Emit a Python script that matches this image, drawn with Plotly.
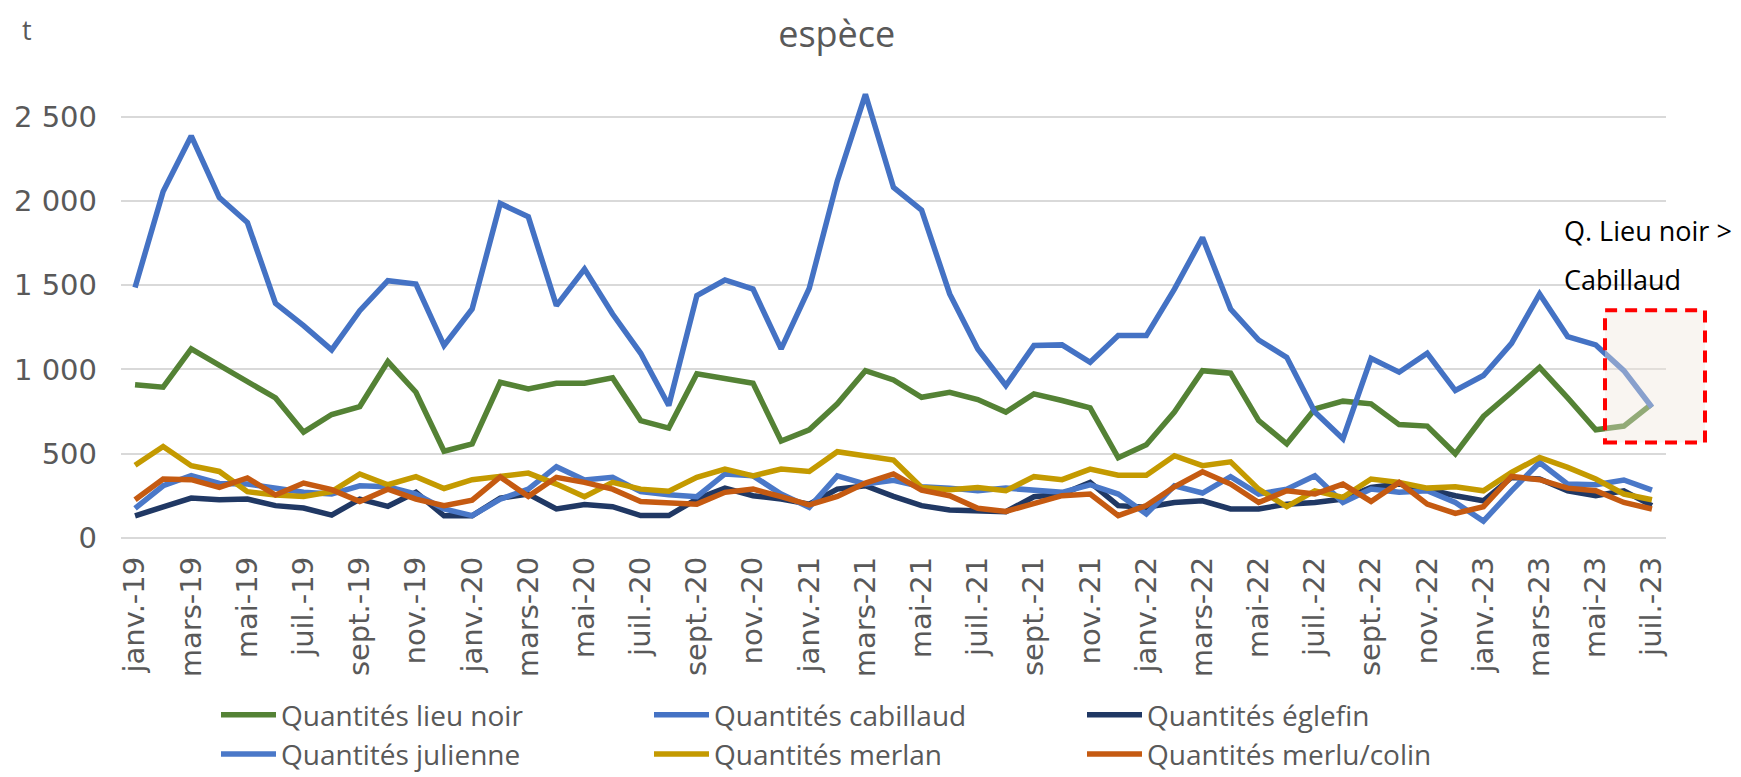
import plotly.graph_objects as go

months = []
mnames = ["janv.", "févr.", "mars", "avr.", "mai", "juin", "juil.", "août", "sept.", "oct.", "nov.", "déc."]
for yy in range(19, 24):
    for m in mnames:
        months.append(f"{m}-{yy}")
months = months[:55]

lieu_noir = [910, 895, 1122, 1023, 928, 831, 628, 733, 780, 1047,
             865, 515, 559, 924, 885, 918, 918, 950, 697, 652,
             974, 948, 918, 575, 642, 796, 993, 938, 835, 865,
             822, 747, 855, 816, 772, 476, 553, 747, 993, 978,
             697, 559, 766, 812, 796, 673, 664, 500, 721, 865,
             1013, 831, 642, 664, 796]
cabillaud = [1487, 2056, 2386, 2020, 1872, 1392, 1260, 1116, 1349, 1527,
             1507, 1142, 1359, 1985, 1906, 1379, 1596, 1329, 1096, 786,
             1438, 1531, 1477, 1122, 1481, 2119, 2633, 2080, 1945, 1448,
             1122, 905, 1142, 1146, 1043, 1201, 1201, 1477, 1783, 1359,
             1175, 1072, 747, 589, 1066, 984, 1096, 875, 964, 1155,
             1448, 1195, 1146, 993, 776]
eglefin = [132, 188, 237, 227, 231, 192, 178, 136, 231, 188,
           271, 132, 132, 237, 261, 172, 198, 186, 133, 133,
           231, 296, 251, 231, 201, 290, 310, 247, 192, 166,
           158, 156, 245, 261, 330, 192, 182, 211, 221, 172,
           172, 201, 211, 231, 300, 320, 290, 251, 221, 359,
           350, 280, 251, 280, 192]
julienne = [176, 310, 370, 324, 320, 294, 271, 261, 310, 304,
            261, 172, 133, 230, 290, 423, 344, 360, 275, 257,
            245, 380, 369, 261, 182, 369, 320, 343, 304, 296,
            281, 296, 281, 271, 316, 261, 143, 310, 267, 364,
            261, 290, 369, 211, 290, 271, 280, 211, 100, 280,
            448, 320, 316, 344, 284]
merlan = [432, 543, 429, 395, 275, 255, 247, 275, 380, 316,
          364, 294, 346, 364, 385, 320, 245, 330, 290, 277,
          360, 409, 369, 409, 395, 512, 488, 462, 300, 286,
          300, 281, 364, 346, 409, 373, 373, 488, 429, 452,
          290, 186, 280, 241, 350, 330, 296, 304, 280, 389,
          478, 419, 350, 261, 227]
merlu = [227, 350, 346, 301, 356, 255, 326, 287, 217, 290,
         231, 192, 225, 362, 247, 360, 330, 290, 217, 208,
         201, 271, 290, 245, 196, 247, 326, 380, 284, 251,
         176, 158, 208, 251, 261, 133, 192, 304, 393, 320,
         211, 280, 261, 320, 217, 330, 201, 146, 186, 365,
         346, 296, 280, 211, 172]

series = [
    ("Quantités lieu noir", lieu_noir, "#548235"),
    ("Quantités cabillaud", cabillaud, "#4472C4"),
    ("Quantités églefin", eglefin, "#203864"),
    ("Quantités julienne", julienne, "#4A78C8"),
    ("Quantités merlan", merlan, "#C49A00"),
    ("Quantités merlu/colin", merlu, "#C55A11"),
]

tick_months = months[::2]
yticks = [0, 500, 1000, 1500, 2000, 2500]

box_y = [567, 1351]

fig = go.Figure()
for name, vals, col in series:
    fig.add_trace(go.Scatter(x=months, y=vals, name=name, mode="lines",
                             line=dict(color=col, width=5.5)))

W, H = 1741, 777
L, R, T, B = 113, 83, 75, 247
PW = W - L - R
PH = H - T - B


def py(pix):
    return 1 - (pix - T) / PH


fig.update_layout(
    width=W, height=H,
    margin=dict(l=L, r=R, t=T, b=B, autoexpand=False),
    plot_bgcolor="white", paper_bgcolor="white",
    separators=", ",
    font=dict(family="DejaVu Sans", color="#595959"),
    title=dict(text="espèce", x=0.476, xref="container", xanchor="center",
               y=1 - 26 / H, yref="container", yanchor="middle",
               font=dict(family="Open Sans", size=36, color="#595959")),
    showlegend=True,
    legend=dict(orientation="h", x=208 / W, xref="container", xanchor="left",
                y=1 - 682 / H, yref="container", yanchor="top",
                font=dict(family="Open Sans", size=28, color="#595959"),
                entrywidth=363, tracegroupgap=0, itemwidth=55),
    xaxis=dict(type="category", categoryorder="array", categoryarray=months,
               tickmode="array", tickvals=tick_months, ticktext=tick_months,
               tickangle=-90, tickfont=dict(size=29, color="#595959"),
               showgrid=False, showline=False, ticks="", range=[-0.5, 54.5],
               ticklabelstandoff=12, automargin=False),
    yaxis=dict(range=[0, 2700], tickmode="array", tickvals=yticks,
               tickformat=",d", tickfont=dict(size=29, color="#595959"),
               showgrid=True, gridcolor="#D9D9D9", gridwidth=1.5,
               zeroline=True, zerolinecolor="#D9D9D9", zerolinewidth=1.5,
               showline=False, ticks="", ticklabelstandoff=23, automargin=False),
)

fig.add_shape(type="rect", xref="paper", yref="y",
              x0=1 - 61 / PW, x1=1 + 39 / PW,
              y0=box_y[0], y1=box_y[1],
              fillcolor="rgba(241,229,221,0.40)",
              line=dict(color="#FF0000", width=4, dash="12px,8px"),
              layer="above")

fig.add_annotation(text="Q. Lieu noir &gt;", xref="paper", yref="paper",
                   x=1 - 104 / PW, y=py(223), xanchor="left", yanchor="middle",
                   showarrow=False, align="left",
                   font=dict(family="Open Sans", size=27, color="#000000"))
fig.add_annotation(text="Cabillaud", xref="paper", yref="paper",
                   x=1 - 104 / PW, y=py(271), xanchor="left", yanchor="middle",
                   showarrow=False, align="left",
                   font=dict(family="Open Sans", size=27, color="#000000"))

fig.add_annotation(text="t", xref="paper", yref="paper",
                   x=(12 - L) / PW, y=py(22), xanchor="left", yanchor="middle",
                   showarrow=False,
                   font=dict(family="Open Sans", size=27, color="#595959"))

fig.write_html("out.html")
